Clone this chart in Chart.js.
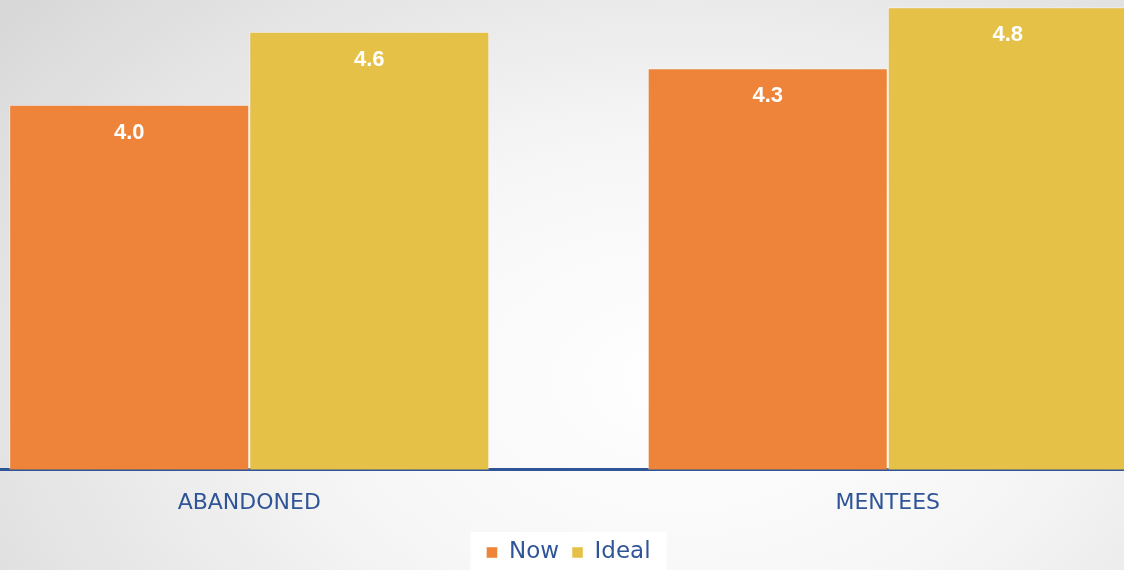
<!DOCTYPE html>
<html lang="en">
<head>
  <meta charset="UTF-8">
  <title>Now vs Ideal</title>
  <script src="https://cdn.jsdelivr.net/npm/chart.js"></script>
  <style>
    html, body {
      margin: 0;
      padding: 0;
      width: 1124px;
      height: 570px;
      overflow: hidden;
    }
    body {
      background: radial-gradient(ellipse 900px 600px at 680px 380px, #ffffff 0%, #f6f6f6 40%, #e4e4e4 75%, #d6d6d6 100%);
      position: relative;
    }
    #wrap {
      position: absolute;
      left: -70px;
      top: 0;
      width: 1277px;
      height: 570px;
    }
  </style>
</head>
<body>
<div id="wrap">
  <canvas id="gapChart" width="1277" height="570"></canvas>
</div>

<script>
  const categories = ["ABANDONED", "MENTEES"];
  const nowValues = [4.0, 4.3];
  const idealValues = [4.6, 4.8];

  const blue = '#2F5597';

  // white labels inside the top of each bar
  const valueLabels = {
    id: 'valueLabels',
    afterDatasetsDraw(chart) {
      const ctx = chart.ctx;
      ctx.save();
      ctx.fillStyle = '#ffffff';
      ctx.font = 'bold 22px "Liberation Sans", Arial, sans-serif';
      ctx.textAlign = 'center';
      ctx.textBaseline = 'middle';
      chart.data.datasets.forEach((ds, i) => {
        chart.getDatasetMeta(i).data.forEach((bar, j) => {
          ctx.fillText(ds.data[j].toFixed(1), bar.x, bar.y + 28);
        });
      });
      ctx.restore();
    }
  };

  // white box behind the legend
  const legendBox = {
    id: 'legendBox',
    beforeDraw(chart) {
      const ctx = chart.ctx;
      const w = 196;
      const cx = chart.width / 2;
      ctx.save();
      ctx.fillStyle = '#ffffff';
      ctx.fillRect(cx - w / 2, 532, w, 40);
      ctx.restore();
    }
  };

  new Chart(document.getElementById('gapChart'), {
    type: 'bar',
    data: {
      labels: categories,
      datasets: [
        {
          label: 'Now',
          data: nowValues,
          backgroundColor: '#EE8439',
          borderColor: 'rgba(255,255,255,0.45)',
          borderWidth: 1,
          barPercentage: 1.0,
          categoryPercentage: 0.752
        },
        {
          label: 'Ideal',
          data: idealValues,
          backgroundColor: '#E6C148',
          borderColor: 'rgba(255,255,255,0.45)',
          borderWidth: 1,
          barPercentage: 1.0,
          categoryPercentage: 0.752
        }
      ]
    },
    options: {
      responsive: false,
      animation: false,
      layout: { padding: { top: 0, left: 0, right: 0, bottom: -4 } },
      scales: {
        y: {
          display: false,
          min: 1,
          max: 4.86
        },
        x: {
          grid: { display: false },
          border: { display: true, color: blue, width: 3 },
          ticks: {
            color: blue,
            padding: 12,
            font: { family: '"DejaVu Sans", sans-serif', size: 22 }
          }
        }
      },
      plugins: {
        legend: {
          position: 'bottom',
          labels: {
            color: blue,
            boxWidth: 11,
            boxHeight: 11,
            padding: 13,
            font: { family: '"DejaVu Sans", sans-serif', size: 23 }
          }
        },
        tooltip: { enabled: false }
      }
    },
    plugins: [legendBox, valueLabels]
  });
</script>
</body>
</html>
